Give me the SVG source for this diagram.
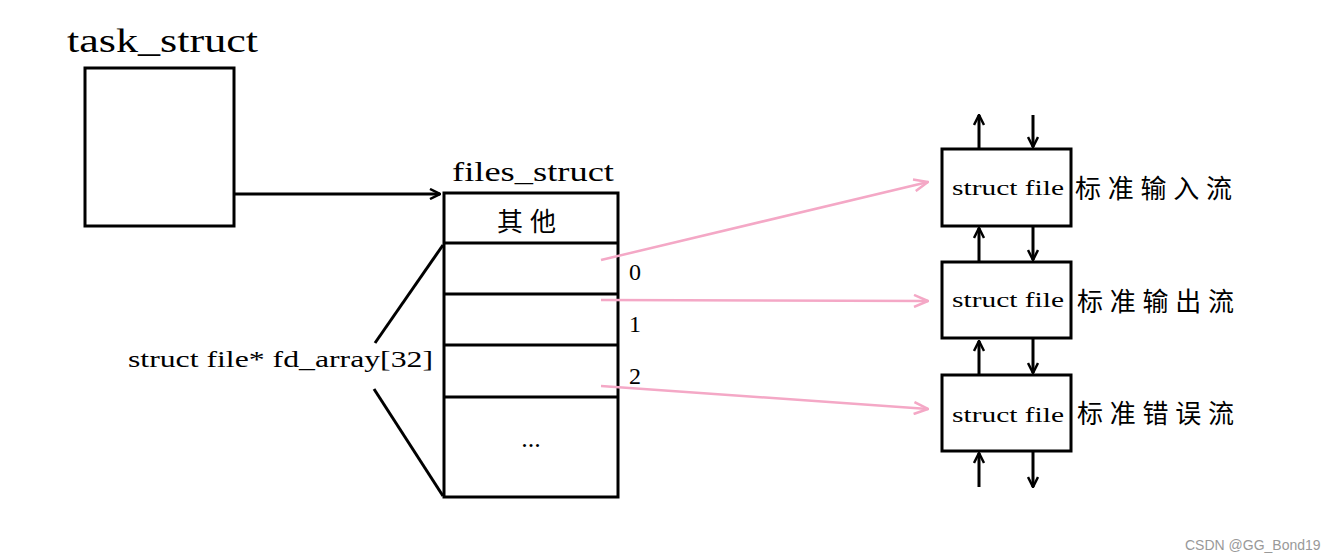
<svg xmlns="http://www.w3.org/2000/svg" width="1334" height="560" viewBox="0 0 1334 560">
<style>
.box{fill:#fff;stroke:#000;stroke-width:3}
.ln{stroke:#000;stroke-width:3;fill:none}
.pk{stroke:#f4a8c6;stroke-width:2.5;fill:none}
.t{font-family:"Liberation Serif","Noto Sans CJK SC",serif;fill:#000}
.cn{font-family:"Liberation Serif","Noto Sans CJK SC",sans-serif;fill:#000}
</style>
<defs>
<marker id="ah" viewBox="0 0 12 12" refX="11" refY="6" markerWidth="12" markerHeight="12" markerUnits="userSpaceOnUse" orient="auto">
<path d="M1,1 L11,6 L1,11" fill="none" stroke="#000" stroke-width="2.5"/>
</marker>
<marker id="ahp" viewBox="0 0 16 14" refX="15" refY="7" markerWidth="16" markerHeight="14" markerUnits="userSpaceOnUse" orient="auto">
<path d="M1,1 L15,7 L1,13" fill="none" stroke="#f4a8c6" stroke-width="2.5"/>
</marker>
</defs>
<rect width="1334" height="560" fill="#fff"/>
<g id="task_struct">
<text class="t" x="67" y="52" font-size="34" textLength="191" lengthAdjust="spacingAndGlyphs">task_struct</text>
<rect class="box" x="85" y="68" width="149" height="158"/>
</g>
<g id="files_struct">
<text class="t" x="452" y="181" font-size="28" textLength="162" lengthAdjust="spacingAndGlyphs">files_struct</text>
<rect class="box" x="444" y="193" width="174" height="304"/>
<line class="ln" x1="444" y1="243" x2="618" y2="243"/>
<line class="ln" x1="444" y1="294" x2="618" y2="294"/>
<line class="ln" x1="444" y1="345" x2="618" y2="345"/>
<line class="ln" x1="444" y1="397" x2="618" y2="397"/>
<text class="cn" x="497" y="231" font-size="26" textLength="59" lengthAdjust="spacing">其他</text>
<text class="t" x="531" y="447" font-size="26" text-anchor="middle">...</text>
<text class="t" x="629" y="280" font-size="24">0</text>
<text class="t" x="629" y="332" font-size="24">1</text>
<text class="t" x="629" y="384" font-size="24">2</text>
</g>
<g id="fd_array">
<text class="t" x="128" y="367" font-size="23" textLength="305" lengthAdjust="spacingAndGlyphs">struct file* fd_array[32]</text>
<line class="ln" x1="375" y1="343" x2="443" y2="245"/>
<line class="ln" x1="374" y1="389" x2="443" y2="496"/>
</g>
<g id="file0">
<rect class="box" x="942" y="149" width="129" height="77"/>
<text class="t" x="952" y="195" font-size="22" textLength="112" lengthAdjust="spacingAndGlyphs">struct file</text>
<text class="cn" x="1075" y="198" font-size="26" textLength="157" lengthAdjust="spacing">标准输入流</text>
</g>
<g id="file1">
<rect class="box" x="942" y="262" width="129" height="76"/>
<text class="t" x="952" y="307" font-size="22" textLength="112" lengthAdjust="spacingAndGlyphs">struct file</text>
<text class="cn" x="1077" y="311" font-size="26" textLength="157" lengthAdjust="spacing">标准输出流</text>
</g>
<g id="file2">
<rect class="box" x="942" y="375" width="129" height="76"/>
<text class="t" x="952" y="422" font-size="22" textLength="112" lengthAdjust="spacingAndGlyphs">struct file</text>
<text class="cn" x="1077" y="423" font-size="26" textLength="157" lengthAdjust="spacing">标准错误流</text>
</g>
<g id="connectors">
<line class="ln" x1="234" y1="194" x2="440" y2="194" marker-end="url(#ah)"/>
<line class="pk" x1="601" y1="260" x2="928" y2="182" marker-end="url(#ahp)"/>
<line class="pk" x1="601" y1="300" x2="928" y2="301" marker-end="url(#ahp)"/>
<line class="pk" x1="601" y1="386" x2="928" y2="409" marker-end="url(#ahp)"/>
<line class="ln" x1="979" y1="148" x2="979" y2="115" marker-end="url(#ah)"/>
<line class="ln" x1="1033" y1="115" x2="1033" y2="147" marker-end="url(#ah)"/>
<line class="ln" x1="979" y1="261" x2="979" y2="228" marker-end="url(#ah)"/>
<line class="ln" x1="1033" y1="227" x2="1033" y2="260" marker-end="url(#ah)"/>
<line class="ln" x1="979" y1="374" x2="979" y2="341" marker-end="url(#ah)"/>
<line class="ln" x1="1033" y1="339" x2="1033" y2="373" marker-end="url(#ah)"/>
<line class="ln" x1="979" y1="487" x2="979" y2="453" marker-end="url(#ah)"/>
<line class="ln" x1="1033" y1="452" x2="1033" y2="487" marker-end="url(#ah)"/>
</g>
<text x="1185" y="550" font-family="Liberation Sans, sans-serif" font-size="14" fill="#999">CSDN @GG_Bond19</text>
</svg>
